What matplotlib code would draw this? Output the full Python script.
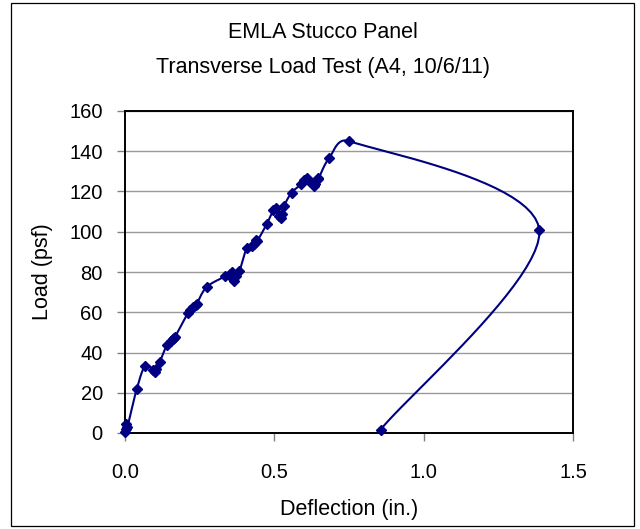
import numpy as np
import matplotlib
matplotlib.use("Agg")
import matplotlib.pyplot as plt
from matplotlib.patches import Rectangle

plt.rcParams['font.family'] = ['Liberation Sans', 'DejaVu Sans']

# Transverse load test readings
deflection_in = [0.000, 0.003, 0.005, 0.008, 0.039, 0.067, 0.095, 0.100, 0.105,
                 0.117, 0.140, 0.155, 0.162, 0.168, 0.165, 0.210, 0.218, 0.228,
                 0.238, 0.240, 0.273, 0.335, 0.350, 0.358, 0.362, 0.365, 0.370,
                 0.383, 0.407, 0.425, 0.433, 0.438, 0.443, 0.474, 0.497, 0.505,
                 0.515, 0.522, 0.525, 0.533, 0.558, 0.590, 0.600, 0.610, 0.615,
                 0.625, 0.632, 0.636, 0.645, 0.647, 0.683, 0.751, 1.387, 0.856]
load_psf = [0.5, 2.0, 4.5, 3.0, 21.7, 33.3, 31.5, 30.5, 32.0,
            35.5, 43.7, 45.5, 46.5, 47.8, 47.0, 59.5, 61.0, 62.5,
            63.5, 64.0, 72.5, 77.8, 79.0, 80.0, 76.5, 75.5, 78.0,
            80.3, 91.7, 93.0, 94.0, 96.0, 95.5, 103.7, 111.0, 111.8,
            108.0, 107.0, 109.0, 113.0, 119.5, 123.5, 125.5, 126.5, 125.0,
            124.0, 122.5, 123.7, 126.5, 126.0, 136.5, 145.0, 101.0, 1.7]

x_ticks = [0.0, 0.5, 1.0, 1.5]
x_tick_labels = ['0.0', '0.5', '1.0', '1.5']
y_ticks = [0, 20, 40, 60, 80, 100, 120, 140, 160]

title_lines = ['EMLA Stucco Panel', 'Transverse Load Test (A4, 10/6/11)']
x_label = 'Deflection (in.)'
y_label = 'Load (psf)'

W, H = 640, 529
fig = plt.figure(figsize=(W / 100, H / 100), dpi=100)
fig.patch.set_facecolor('white')

left, right, top, bottom = 125, 573, 111, 433
ax = fig.add_axes([left / W, 1 - bottom / H, (right - left) / W, (bottom - top) / H])
ax.set_xlim(0, 1.5)
ax.set_ylim(0, 160)

# outer chart border
bl, bt, br, bb = 11, 3, 634, 526
fig.add_artist(Rectangle((bl / W, 1 - bb / H), (br - bl) / W, (bb - bt) / H,
                         transform=fig.transFigure, fill=False,
                         edgecolor='black', linewidth=0.9))


def smooth_curve(xs, ys, ax, n=24):
    """Bezier smoothing through the points (screen space), with the
    control arms capped at half the segment length."""
    pts = ax.transData.transform(np.column_stack([xs, ys]))
    p = np.vstack([pts[0], pts, pts[-1]])
    out = []
    t = np.linspace(0, 1, n, endpoint=False)[:, None]
    for i in range(1, len(p) - 2):
        p0, p1, p2, p3 = p[i - 1], p[i], p[i + 1], p[i + 2]
        d12 = np.hypot(*(p2 - p1))
        d02 = np.hypot(*(p2 - p0))
        d13 = np.hypot(*(p3 - p1))
        f1 = min(1 / 6, d12 / (2 * d02)) if d02 > 0 else 0
        f2 = min(1 / 6, d12 / (2 * d13)) if d13 > 0 else 0
        c1 = p1 + (p2 - p0) * f1
        c2 = p2 - (p3 - p1) * f2
        seg = ((1 - t) ** 3) * p1 + 3 * ((1 - t) ** 2) * t * c1 \
            + 3 * (1 - t) * t ** 2 * c2 + t ** 3 * p2
        out.append(seg)
    out.append(p[-2][None, :])
    out = np.vstack(out)
    data = ax.transData.inverted().transform(out)
    return data[:, 0], data[:, 1]


sx, sy = smooth_curve(deflection_in, load_psf, ax)
navy = '#000080'
ax.plot(sx, sy, color=navy, linewidth=1.5, zorder=3, clip_on=False)
ax.plot(deflection_in, load_psf, linestyle='none', marker='D', markersize=5.5,
        color=navy, zorder=4, clip_on=False)

ax.set_yticks(y_ticks)
ax.set_xticks(x_ticks)
ax.set_xticklabels(x_tick_labels)
ax.yaxis.grid(True, color='#9a9a9a', linewidth=1.0)
ax.set_axisbelow(True)
for s in ax.spines.values():
    s.set_linewidth(1.4)
    s.set_color('black')
ax.tick_params(axis='both', direction='out', length=5.5, width=1.0,
               color='#808080', labelsize=14.5, labelcolor='black')
ax.tick_params(axis='y', pad=10.5)
ax.tick_params(axis='x', pad=16)

ax.set_xlabel(x_label, fontsize=15.5, labelpad=12)
ax.set_ylabel(y_label, fontsize=15.5, labelpad=12)

cx = (bl + br) / 2 / W
fig.text(cx, 1 - 38 / H, title_lines[0], ha='center', va='baseline', fontsize=15.5)
fig.text(cx, 1 - 73 / H, title_lines[1], ha='center', va='baseline', fontsize=15.5)

fig.savefig('out.png', dpi=100)
